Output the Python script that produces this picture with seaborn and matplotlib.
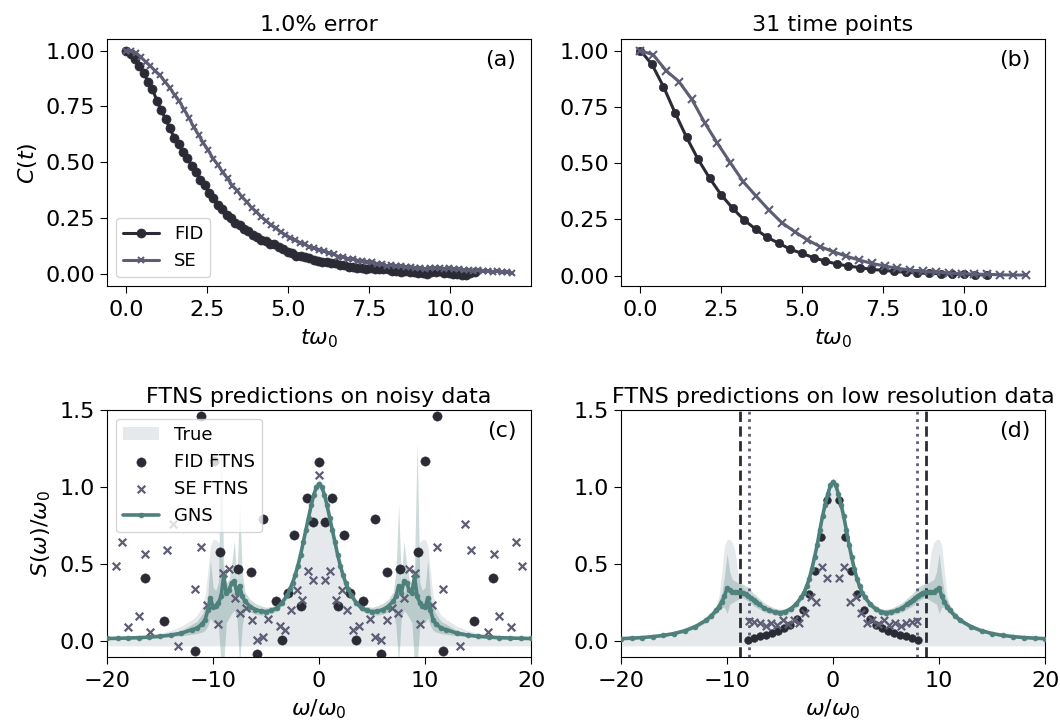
import numpy as np
import matplotlib
matplotlib.use("Agg")
import matplotlib.pyplot as plt
import seaborn as sns

sns.set_style("ticks")
plt.rcParams["font.family"] = ["DejaVu Sans"]
plt.rcParams["mathtext.fontset"] = "dejavusans"
plt.rcParams["xtick.labelsize"] = 16
plt.rcParams["ytick.labelsize"] = 16
plt.rcParams["axes.titlesize"] = 16
plt.rcParams["axes.labelsize"] = 16
plt.rcParams["legend.fontsize"] = 13
plt.rcParams["axes.edgecolor"] = "black"
plt.rcParams["axes.labelcolor"] = "black"
plt.rcParams["text.color"] = "black"
plt.rcParams["xtick.color"] = "black"
plt.rcParams["ytick.color"] = "black"
plt.rcParams["xtick.major.size"] = 5
plt.rcParams["ytick.major.size"] = 5
plt.rcParams["xtick.major.pad"] = 5
plt.rcParams["axes.labelpad"] = 5

FID_C = "#2b2b36"
SE_C = "#5d5d75"
GNS_C = "#4e807c"
TRUE_C = "#e5e9ec"

# ── (a) correlation functions with 1% error ─────────────────────────────────
dt_fid_a = 0.1346
dt_se_a = 0.1489
fid_a = [1.000, 0.984, 0.962, 0.930, 0.901, 0.861, 0.828, 0.776, 0.735, 0.693,
         0.652, 0.609, 0.580, 0.547, 0.520, 0.484, 0.458, 0.422, 0.397, 0.363,
         0.338, 0.306, 0.288, 0.261, 0.248, 0.228, 0.217, 0.200, 0.191, 0.174,
         0.165, 0.152, 0.146, 0.134, 0.131, 0.119, 0.110, 0.096, 0.091, 0.080,
         0.080, 0.073, 0.071, 0.061, 0.059, 0.053, 0.053, 0.046, 0.046, 0.039,
         0.037, 0.031, 0.030, 0.024, 0.026, 0.023, 0.027, 0.023, 0.022, 0.019,
         0.019, 0.014, 0.013, 0.009, 0.010, 0.006, 0.007, 0.002, 0.002, 0.000,
         0.006, 0.008, 0.011, 0.005, 0.003, -0.001, -0.002, -0.006, -0.005, 0.001, 0.006]
se_a = [1.000, 1.001, 0.990, 0.972, 0.950, 0.932, 0.909, 0.889, 0.862, 0.835,
        0.801, 0.774, 0.735, 0.699, 0.657, 0.623, 0.585, 0.553, 0.516, 0.489,
        0.454, 0.427, 0.395, 0.373, 0.344, 0.322, 0.296, 0.278, 0.255, 0.238,
        0.218, 0.205, 0.187, 0.175, 0.161, 0.153, 0.139, 0.132, 0.120, 0.116,
        0.105, 0.101, 0.091, 0.087, 0.077, 0.074, 0.067, 0.066, 0.059, 0.058,
        0.052, 0.051, 0.044, 0.042, 0.036, 0.037, 0.034, 0.035, 0.031, 0.031,
        0.027, 0.026, 0.021, 0.024, 0.024, 0.027, 0.023, 0.024, 0.020, 0.019,
        0.015, 0.017, 0.014, 0.016, 0.013, 0.013, 0.009, 0.010, 0.006, 0.006, 0.002]

# ── (b) 31 time points ──────────────────────────────────────────────────────
dt_fid_b = 0.3567
dt_se_b = 0.397
fid_b = [1.000, 0.939, 0.840, 0.724, 0.615, 0.517, 0.433, 0.359, 0.299, 0.247,
         0.206, 0.170, 0.144, 0.117, 0.099, 0.080, 0.065, 0.052, 0.043, 0.036,
         0.028, 0.024, 0.019, 0.015, 0.012, 0.010, 0.009, 0.007, 0.006, 0.004, 0.003]
se_b = [1.000, 0.981, 0.911, 0.862, 0.784, 0.680, 0.588, 0.502, 0.418, 0.354,
        0.292, 0.236, 0.196, 0.159, 0.129, 0.107, 0.087, 0.070, 0.055, 0.043,
        0.033, 0.025, 0.019, 0.015, 0.012, 0.009, 0.007, 0.006, 0.004, 0.003, 0.003]

# ── spectra (symmetric in omega, only omega >= 0 is listed) ─────────────────
w_half = [0, 0.25, 0.5, 0.75, 1.0, 1.25, 1.5, 1.75, 2.0, 2.25, 2.5, 2.75, 3.0,
          3.5, 4.0, 4.5, 5.0, 5.5, 6.0, 6.5, 7.0,
          7.25, 7.5, 7.75, 8.0, 8.25, 8.5, 8.75, 9.0, 9.25, 9.5, 9.75, 10.0, 10.25, 10.5, 10.75, 11.0,
          11.5, 12.0,
          13, 14, 15, 16, 17, 18, 19, 20]
true_half = [1.055, 1.030, 0.970, 0.890, 0.810, 0.720, 0.630, 0.550, 0.475, 0.410, 0.360, 0.320, 0.290,
             0.245, 0.215, 0.197, 0.190, 0.195, 0.205, 0.220, 0.245,
             0.258, 0.272, 0.290, 0.310, 0.330, 0.350, 0.380, 0.450, 0.580, 0.640, 0.660, 0.660, 0.620, 0.450, 0.300, 0.230,
             0.170, 0.140,
             0.098, 0.070, 0.052, 0.040, 0.032, 0.026, 0.022, 0.019]

gns_c_half = [1.020, 1.000, 0.950, 0.880, 0.800, 0.720, 0.640, 0.560, 0.490, 0.430, 0.380, 0.340, 0.300,
              0.250, 0.215, 0.200, 0.192, 0.195, 0.205, 0.225, 0.260,
              0.290, 0.360, 0.310, 0.390, 0.380, 0.330, 0.310, 0.420, 0.290, 0.250, 0.230, 0.220, 0.280, 0.200, 0.140, 0.115,
              0.085, 0.075,
              0.052, 0.040, 0.032, 0.027, 0.023, 0.021, 0.019, 0.018]
gns_c_lo = [1.0, 0.98, 0.93, 0.86, 0.78, 0.70, 0.62, 0.54, 0.47, 0.41, 0.36, 0.32, 0.28,
            0.23, 0.195, 0.18, 0.17, 0.17, 0.175, 0.19, 0.2,
            0.1, -0.15, 0.15, 0.2, 0.18, 0.15, 0.12, -0.15, -0.15, 0.1, 0.12, 0.12, 0.15, 0.1, 0.07, 0.06,
            0.05, 0.045,
            0.035, 0.03, 0.025, 0.02, 0.018, 0.016, 0.015, 0.014]
gns_c_hi = [1.04, 1.02, 0.97, 0.9, 0.82, 0.74, 0.66, 0.58, 0.51, 0.45, 0.4, 0.36, 0.32,
            0.27, 0.235, 0.225, 0.22, 0.23, 0.245, 0.27, 0.32,
            0.45, 0.89, 0.4, 0.65, 0.5, 0.4, 0.38, 0.5, 1.29, 0.38, 0.33, 0.35, 0.53, 0.3, 0.22, 0.18,
            0.13, 0.11,
            0.07, 0.052, 0.04, 0.033, 0.028, 0.025, 0.023, 0.022]

gns_d_half = [1.035, 1.010, 0.955, 0.885, 0.810, 0.720, 0.625, 0.545, 0.470, 0.405, 0.355, 0.315, 0.285,
              0.240, 0.210, 0.192, 0.185, 0.190, 0.200, 0.215, 0.240,
              0.252, 0.265, 0.280, 0.295, 0.305, 0.315, 0.318, 0.318, 0.318, 0.320, 0.330, 0.345, 0.290, 0.255, 0.225, 0.200,
              0.165, 0.135,
              0.095, 0.068, 0.050, 0.038, 0.030, 0.024, 0.020, 0.017]
gns_d_lo = [1.015, 0.99, 0.935, 0.865, 0.79, 0.70, 0.605, 0.525, 0.45, 0.385, 0.335, 0.295, 0.265,
            0.22, 0.19, 0.172, 0.165, 0.17, 0.18, 0.19, 0.21,
            0.22, 0.23, 0.245, 0.26, 0.27, 0.28, 0.28, 0.27, 0.26, 0.25, 0.24, 0.18, 0.22, 0.22, 0.2, 0.18,
            0.148, 0.12,
            0.082, 0.058, 0.042, 0.031, 0.024, 0.019, 0.015, 0.012]
gns_d_hi = [1.055, 1.03, 0.975, 0.905, 0.83, 0.74, 0.645, 0.565, 0.49, 0.425, 0.375, 0.335, 0.305,
            0.26, 0.23, 0.212, 0.207, 0.215, 0.23, 0.25, 0.28,
            0.295, 0.31, 0.33, 0.35, 0.36, 0.37, 0.375, 0.38, 0.39, 0.40, 0.45, 0.57, 0.42, 0.31, 0.27, 0.235,
            0.19, 0.155,
            0.108, 0.078, 0.058, 0.045, 0.036, 0.029, 0.025, 0.022]

# FTNS estimates (visible points only, omega >= 0)
fid_c_w = [0, 0.585, 1.17, 1.755, 2.34, 2.925, 3.51, 4.095, 5.265, 5.85, 6.435, 7.605,
           9.36, 9.945, 11.115, 11.7, 14.625, 16.38]
fid_c_s = [1.16, 0.77, 0.93, 0.23, 0.69, 0.31, 0.01, 0.26, 0.79, -0.08, 0.45, 0.47,
           0.58, 1.17, 1.46, -0.06, 0.13, 0.41]
se_c_w = [0, 0.531, 1.062, 1.593, 2.124, 2.655, 3.186, 3.717, 4.779, 5.31, 5.841, 6.372,
          6.903, 7.434, 7.965, 8.496, 9.027, 9.558, 10.62, 11.151, 11.682, 13.275, 13.806,
          14.337, 15.93, 16.461, 16.992, 18.054, 18.585, 19.116]
se_c_s = [1.08, 0.40, 0.455, 0.266, 0.335, 0.20, 0.075, 0.10, 0.147, 0.026, 0.006, 0.14,
          0.215, 0.183, 0.277, 0.466, 0.44, 0.11, 0.236, 0.61, 0.34, -0.028, 0.762,
          0.593, 0.063, 0.563, 0.166, 0.093, 0.643, 0.488]
fid_d_w = [0.575, 1.15, 1.725, 2.3, 2.875, 3.45, 4.025, 4.6, 5.175, 5.75, 6.325, 6.9, 7.475, 8.05]
fid_d_s = [0.915, 0.675, 0.455, 0.305, 0.205, 0.145, 0.105, 0.083, 0.066, 0.053, 0.042,
           0.032, 0.021, 0.008]
se_d_w = [0.53, 1.06, 1.59, 2.12, 2.65, 3.18, 3.71, 4.24, 4.77, 5.30, 5.83, 6.36, 6.89, 7.42, 7.95]
se_d_s = [0.41, 0.484, 0.257, 0.288, 0.185, 0.12, 0.135, 0.11, 0.14, 0.105, 0.12,
          0.10, 0.12, 0.125, 0.13]

nyq_fid = 8.79
nyq_se = 7.95


def mirror(w, v):
    w = np.asarray(w, float)
    v = np.asarray(v, float)
    if w[0] == 0:
        return np.concatenate([-w[:0:-1], w]), np.concatenate([v[:0:-1], v])
    return np.concatenate([-w[::-1], w]), np.concatenate([v[::-1], v])


fig = plt.figure(figsize=(10.6, 7.21), dpi=100)
gs = fig.add_gridspec(2, 2, left=0.101, right=0.986, top=0.9455, bottom=0.0892,
                      wspace=0.212, hspace=0.5)
ax_a = fig.add_subplot(gs[0, 0])
ax_b = fig.add_subplot(gs[0, 1])
ax_c = fig.add_subplot(gs[1, 0])
ax_d = fig.add_subplot(gs[1, 1])

# ── (a) ─────────────────────────────────────────────────────────────────────
t_fa = np.arange(len(fid_a)) * dt_fid_a
t_sa = np.arange(len(se_a)) * dt_se_a
sns.lineplot(x=t_fa, y=fid_a, ax=ax_a, color=FID_C, lw=2.2, marker="o", markersize=6.5,
             markeredgecolor=FID_C, markeredgewidth=0.5, label="FID", sort=False, errorbar=None)
sns.lineplot(x=t_sa, y=se_a, ax=ax_a, color=SE_C, lw=2.2, marker="x", markersize=5,
             markeredgecolor=SE_C, markeredgewidth=1.5, label="SE", sort=False, errorbar=None)
ax_a.legend(loc="lower left", fontsize=13)
ax_a.set_title("1.0% error", pad=6)
ax_a.set_xlabel(r"$t\omega_0$")
ax_a.set_ylabel(r"$C(t)$")

# ── (b) ─────────────────────────────────────────────────────────────────────
t_fb = np.arange(len(fid_b)) * dt_fid_b
t_sb = np.arange(len(se_b)) * dt_se_b
sns.lineplot(x=t_fb, y=fid_b, ax=ax_b, color=FID_C, lw=2.2, marker="o", markersize=6,
             markeredgecolor=FID_C, markeredgewidth=0.5, sort=False, errorbar=None)
sns.lineplot(x=t_sb, y=se_b, ax=ax_b, color=SE_C, lw=2.2, marker="x", markersize=6,
             markeredgecolor=SE_C, markeredgewidth=1.5, sort=False, errorbar=None)
ax_b.set_title("31 time points", pad=6)
ax_b.set_xlabel(r"$t\omega_0$")

for ax in (ax_a, ax_b):
    ax.set_xticks([0, 2.5, 5, 7.5, 10])
    ax.set_xticklabels(["0.0", "2.5", "5.0", "7.5", "10.0"])
    ax.set_yticks([0, 0.25, 0.5, 0.75, 1.0])
    ax.set_yticklabels(["0.00", "0.25", "0.50", "0.75", "1.00"])

# ── (c) and (d) ─────────────────────────────────────────────────────────────
w_full, true_full = mirror(w_half, true_half)
panels = [
    (ax_c, gns_c_half, gns_c_lo, gns_c_hi, fid_c_w, fid_c_s, se_c_w, se_c_s),
    (ax_d, gns_d_half, gns_d_lo, gns_d_hi, fid_d_w, fid_d_s, se_d_w, se_d_s),
]
for i, (ax, g, lo, hi, fw, fs, sw, ss) in enumerate(panels):
    lab = (lambda s: s) if i == 0 else (lambda s: None)
    _, g_full = mirror(w_half, g)
    _, lo_full = mirror(w_half, lo)
    _, hi_full = mirror(w_half, hi)
    fw_full, fs_full = mirror(fw, fs)
    sw_full, ss_full = mirror(sw, ss)
    ax.fill_between(w_full, true_full, -0.03, color=TRUE_C, lw=0, zorder=1, label=lab("True"))
    ax.fill_between(w_full, lo_full, hi_full, color=GNS_C, alpha=0.28, lw=0, zorder=1.5)
    sns.scatterplot(x=fw_full, y=fs_full, ax=ax, color=FID_C, marker="o",
                    s=45 if i == 0 else 32, edgecolor=FID_C, linewidth=0.3, zorder=2.5,
                    label=lab("FID FTNS"), legend=False)
    sns.scatterplot(x=sw_full, y=ss_full, ax=ax, color=SE_C, marker="x",
                    s=30 if i == 0 else 28, linewidth=1.6, zorder=2.6,
                    label=lab("SE FTNS"), legend=False)
    sns.lineplot(x=w_full, y=g_full, ax=ax, color=GNS_C, lw=2.6, marker="o", markersize=3.5,
                 markeredgecolor=GNS_C, markeredgewidth=0.5, zorder=3, sort=False,
                 errorbar=None, label=lab("GNS"), legend=False)
    ax.set_xlim(-20, 20)
    ax.set_ylim(-0.1, 1.5)
    ax.set_xticks([-20, -10, 0, 10, 20])
    ax.set_yticks([0, 0.5, 1.0, 1.5])
    ax.set_xlabel(r"$\omega/\omega_0$")

for x in (-nyq_fid, nyq_fid):
    ax_d.axvline(x, color=FID_C, ls="--", lw=2, zorder=2)
for x in (-nyq_se, nyq_se):
    ax_d.axvline(x, color=SE_C, ls=":", lw=2, zorder=2)

h, l = ax_c.get_legend_handles_labels()
order = [l.index(k) for k in ["True", "FID FTNS", "SE FTNS", "GNS"]]
ax_c.legend([h[k] for k in order], [l[k] for k in order], loc="upper left", fontsize=13)
ax_c.set_title("FTNS predictions on noisy data", pad=5)
ax_d.set_title("FTNS predictions on low resolution data", pad=5)
ax_c.set_ylabel(r"$S(\omega)/\omega_0$")

for ax, tag in zip((ax_a, ax_b, ax_c, ax_d), ["(a)", "(b)", "(c)", "(d)"]):
    ax.text(0.965, 0.955, tag, transform=ax.transAxes, ha="right", va="top", fontsize=16)

fig.savefig("out.png", dpi=100)
